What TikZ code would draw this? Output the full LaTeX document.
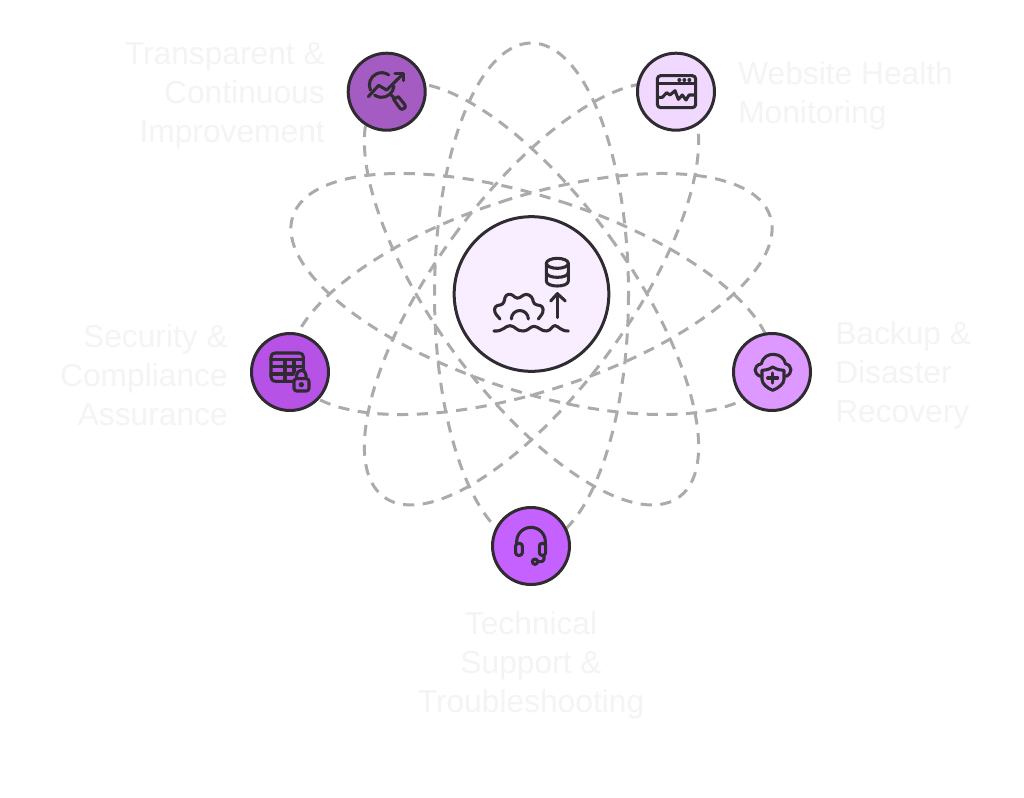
\documentclass[tikz,border=0pt]{standalone}
\usepackage{fontspec}
\setmainfont{Liberation Sans}
\definecolor{ink}{HTML}{2F2B30}
\definecolor{ringgray}{HTML}{ABABAB}
\definecolor{pale}{HTML}{F4F4F4}
\definecolor{ncenter}{HTML}{F8EEFF}
\definecolor{nA}{HTML}{A45CC2}
\definecolor{nB}{HTML}{F0D8FF}
\definecolor{nC}{HTML}{B653E6}
\definecolor{nD}{HTML}{DD99FF}
\definecolor{nE}{HTML}{C562FF}
\tikzset{
  ring/.style={draw=ringgray,line width=2.25pt,dash pattern=on 8.4pt off 6.4pt},
  dot/.style={circle,draw=ink,line width=2.25pt,minimum size=57.75pt,inner sep=0pt},
  hub/.style={circle,draw=ink,line width=2.25pt,minimum size=116pt,inner sep=0pt,fill=ncenter},
  lab/.style={text=pale,inner sep=0pt,font=\fontsize{23.8}{29.25}\selectfont},
  icon/.style={draw=ink,line width=2.3pt,line cap=round,line join=round},
  zoomed/.style={shift={#1},x=0.25pt,y=-0.25pt}
}
\begin{document}
\begin{tikzpicture}[x=0.75pt,y=-0.75pt]
\useasboundingbox (0,0) rectangle (1024,797);
\fill[white] (0,0) rectangle (1024,797);
% rings
\foreach \a in {0,36,72,108,144}
  \draw[ring,rotate around={\a:(531.5,294)}] (531.5,294) ellipse [x radius=97,y radius=251];
% nodes
\node[hub] (core) at (531.5,294) {};
\node[dot,fill=nA] (improve) at (386.7,91.7) {};
\node[dot,fill=nB] (health) at (676,91.7) {};
\node[dot,fill=nC] (security) at (290,372) {};
\node[dot,fill=nD] (backup) at (772,372) {};
\node[dot,fill=nE] (support) at (531,546) {};
% labels
\node[lab,align=right,anchor=east] (t1) at (325,95.5) {Transparent \&\\Continuous\\Improvement};
\node[lab,align=left,anchor=west] (t2) at (738,95.5) {Website Health\\Monitoring};
\node[lab,align=right,anchor=east] (t3) at (228,375.5) {Security \&\\Compliance\\Assurance};
\node[lab,align=left,anchor=west] (t4) at (835,375.5) {Backup \&\\Disaster\\Recovery};
\node[lab,align=center] (t5) at (531,665.5) {Technical\\Support \&\\Troubleshooting};
% centre icon
\begin{scope}[zoomed={(440,205)},icon]
  \draw (352,175) ellipse [x radius=33,y radius=15];
  \draw (319,175) -- (319,228) .. controls (319,248) and (385,248) .. (385,228) -- (385,175);
  \draw (319,202) .. controls (319,222) and (385,222) .. (385,202);
  \draw (352,338) -- (352,266);
  \draw (332,288) -- (352,266) -- (376,288);
  \draw[rounded corners=2pt] (180,342) -- (163,322) -- (165,303) -- (190,298) -- (197,270) -- (212,266) -- (232,282) -- (258,266) -- (276,275) -- (282,298) -- (308,303) -- (310,322) -- (295,342);
  \draw (214,342) arc[start angle=180,end angle=360,radius=25.5];
  \draw (162,378) .. controls (190,380) and (195,362) .. (210,362) .. controls (225,362) and (230,380) .. (250,378)
     .. controls (265,378) and (270,364) .. (282,364) .. controls (295,364) and (305,380) .. (320,378)
     .. controls (335,376) and (335,362) .. (345,362) .. controls (355,362) and (360,378) .. (385,378);
\end{scope}
% improvement icon
\begin{scope}[zoomed={(335,40)},icon]
  \draw (140,135) ++(155:37) arc[start angle=155,end angle=305,radius=37];
  \draw (140,135) ++(5:37) arc[start angle=5,end angle=125,radius=37];
  \draw (100,170) -- (131,136) -- (155,150) -- (203,103);
  \draw (180,101) -- (205,101) -- (205,122);
  \draw (168,164) -- (178,175);
  \draw (176,178) -- (190,170) -- (208,192) .. controls (214,200) and (210,208) .. (202,208) .. controls (198,208) and (195,205) .. (192,201) -- cycle;
\end{scope}
% monitor icon
\begin{scope}[zoomed={(625,40)},icon]
  \draw[rounded corners=2.5pt] (97,107) rectangle (212,203);
  \draw (97,131) -- (212,131);
  \fill[ink] (163,120) circle[radius=6] (178,120) circle[radius=6] (193,120) circle[radius=6];
  \draw (97,172) -- (112,172) -- (125,158) -- (135,165) -- (150,152) -- (160,178) -- (172,165) -- (183,180) -- (192,165) -- (212,165);
\end{scope}
% security icon
\begin{scope}[zoomed={(240,322)},icon]
  \draw (160,178) -- (108,178) .. controls (98,178) and (93,172) .. (93,165) -- (93,105) .. controls (93,98) and (98,93) .. (105,93) -- (178,93) .. controls (186,93) and (190,98) .. (190,105) -- (190,145);
  \draw (93,112) -- (190,112);
  \draw (93,134) -- (190,134);
  \draw (93,156) -- (160,156);
  \draw (135,112) -- (135,178);
  \draw (162,112) -- (162,150);
  \draw[rounded corners=2pt] (162,170) rectangle (207,207);
  \draw (170,170) -- (170,159) arc[start angle=180,end angle=360,radius=14] -- (198,170);
  \fill[ink] (184,188) circle[radius=8];
\end{scope}
% backup icon
\begin{scope}[zoomed={(722,322)},icon]
  \draw (115,163) .. controls (95,155) and (92,132) .. (118,125) .. controls (122,105) and (140,96) .. (155,97)
     .. controls (175,98) and (188,110) .. (190,125) .. controls (212,130) and (212,155) .. (192,163);
  \draw (152,135) .. controls (165,143) and (175,145) .. (186,145) -- (186,172) .. controls (186,185) and (170,198) .. (152,205)
     .. controls (135,198) and (120,185) .. (120,172) -- (120,145) .. controls (130,145) and (140,143) .. (152,135) -- cycle;
  \draw (152,153) -- (152,183);
  \draw (137,168) -- (167,168);
\end{scope}
% support icon
\begin{scope}[zoomed={(480,496)},icon]
  \draw (110,145) -- (110,137) arc[start angle=180,end angle=360,radius=43] -- (196,145);
  \draw[rounded corners=2pt] (107,142) rectangle (127,178);
  \draw[rounded corners=2pt] (178,142) rectangle (197,178);
  \draw (192,178) -- (192,190) .. controls (192,195) and (188,197) .. (175,197);
  \draw (165,197) circle[radius=8];
\end{scope}
\end{tikzpicture}
\end{document}
